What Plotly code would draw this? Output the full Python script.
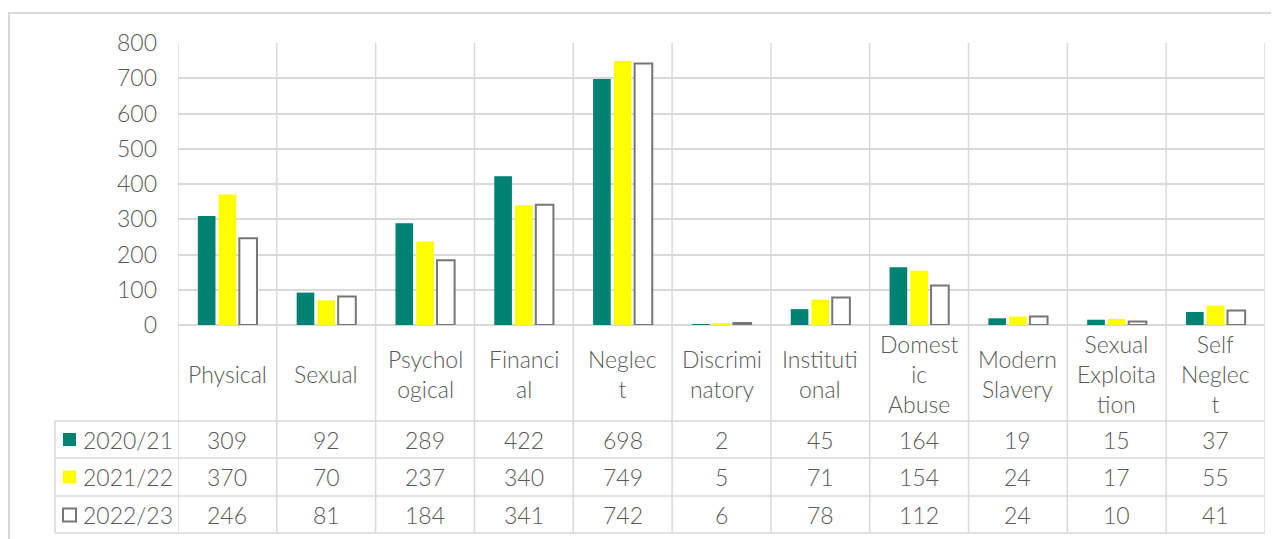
import plotly.graph_objects as go

# data
categories = ['Physical', 'Sexual', 'Psychological', 'Financial', 'Neglect', 'Discriminatory',
              'Institutional', 'Domestic Abuse', 'Modern Slavery', 'Sexual Exploitation', 'Self Neglect']
cat_labels = ['Physical', 'Sexual', 'Psychol<br>ogical', 'Financi<br>al', 'Neglec<br>t', 'Discrimi<br>natory',
              'Instituti<br>onal', 'Domest<br>ic<br>Abuse', 'Modern<br>Slavery', 'Sexual<br>Exploita<br>tion',
              'Self<br>Neglec<br>t']
years = ['2020/21', '2021/22', '2022/23']
v_2020 = [309, 92, 289, 422, 698, 2, 45, 164, 19, 15, 37]
v_2021 = [370, 70, 237, 340, 749, 5, 71, 154, 24, 17, 55]
v_2022 = [246, 81, 184, 341, 742, 6, 78, 112, 24, 10, 41]
y_ticks = [0, 100, 200, 300, 400, 500, 600, 700, 800]

TEAL = '#008272'
YELLOW = '#FFFF00'
GREY = '#767676'
GRID = '#d9d9d9'
TXT = '#595959'
FONT = 'Century Gothic, Lato, sans-serif'
FS = 23
WT = 300

# page body margin pushes the figure 8px right/down
OFF = 8
FW, FH = 1279 - OFF, 539 - OFF
# plot area in screen pixels
L, R, T, B = 178, 1265, 43, 325
W, H = R - L, B - T


def fx(p):
    return (p - L) / W


def fy(p):
    return (B - p) / H


tfont = dict(family=FONT, size=FS, color=TXT, weight=WT)

series = [v_2020, v_2021, v_2022]
fig = go.Figure()
fig.add_trace(go.Bar(x=categories, y=v_2020, name=years[0], marker=dict(color=TEAL, line=dict(width=0))))
fig.add_trace(go.Bar(x=categories, y=v_2021, name=years[1], marker=dict(color=YELLOW, line=dict(width=0))))
fig.add_trace(go.Bar(x=categories, y=v_2022, name=years[2], marker=dict(color='white', line=dict(color=GREY, width=2))))

shapes = []
# outer chart border
shapes.append(dict(type='rect', xref='paper', yref='paper', x0=fx(9), x1=fx(1300), y0=fy(13), y1=fy(580),
                   line=dict(color=GRID, width=2), layer='below'))
# vertical column lines through plot and table
for i in range(len(categories) + 1):
    shapes.append(dict(type='line', xref='x', yref='paper', x0=i - 0.5, x1=i - 0.5, y0=1, y1=fy(533),
                       line=dict(color=GRID, width=1.5), layer='below'))
# table left column
shapes.append(dict(type='line', xref='paper', yref='paper', x0=fx(55), x1=fx(55), y0=fy(421), y1=fy(533),
                   line=dict(color=GRID, width=1.5)))
row_lines = [421, 458, 496, 533]
for r in row_lines:
    shapes.append(dict(type='line', xref='paper', yref='paper', x0=fx(55), x1=1, y0=fy(r), y1=fy(r),
                       line=dict(color=GRID, width=1.5)))

row_centers = [439.5, 477, 515]
key_fill = [TEAL, YELLOW, 'white']
key_line = [TEAL, YELLOW, GREY]
for k, yc in enumerate(row_centers):
    shapes.append(dict(type='rect', xref='paper', yref='paper', x0=fx(63), x1=fx(76), y0=fy(yc - 6.5),
                       y1=fy(yc + 6.5), fillcolor=key_fill[k], line=dict(color=key_line[k], width=2 if k == 2 else 0)))

annotations = []
for i, lab in enumerate(cat_labels):
    annotations.append(dict(x=i, xref='x', y=fy(373.5), yref='paper', text=lab, showarrow=False,
                            xanchor='center', yanchor='middle', align='center', font=tfont))
for k, vals in enumerate(series):
    annotations.append(dict(x=fx(81), xref='paper', y=fy(row_centers[k]), yref='paper', text=years[k],
                            showarrow=False, xanchor='left', yanchor='middle', font=tfont))
    for i, v in enumerate(vals):
        annotations.append(dict(x=i, xref='x', y=fy(row_centers[k]), yref='paper', text=str(v),
                                showarrow=False, xanchor='center', yanchor='middle', font=tfont))

fig.update_layout(
    width=FW, height=FH,
    margin=dict(l=L - OFF, r=FW - (R - OFF), t=T - OFF, b=FH - (B - OFF)),
    paper_bgcolor='white', plot_bgcolor='white',
    barmode='group', bargap=0.37, bargroupgap=0.15,
    showlegend=False,
    shapes=shapes, annotations=annotations,
    font=tfont,
)
fig.update_xaxes(showticklabels=False, showgrid=False, showline=False, zeroline=False,
                 range=[-0.5, len(categories) - 0.5])
fig.update_yaxes(range=[0, 800], tickvals=y_ticks, showgrid=True, gridcolor=GRID, gridwidth=1.5,
                 zeroline=True, zerolinecolor=GRID, zerolinewidth=1.5, showline=False,
                 ticklabelstandoff=20, tickfont=tfont)

fig.write_html("out.html")
